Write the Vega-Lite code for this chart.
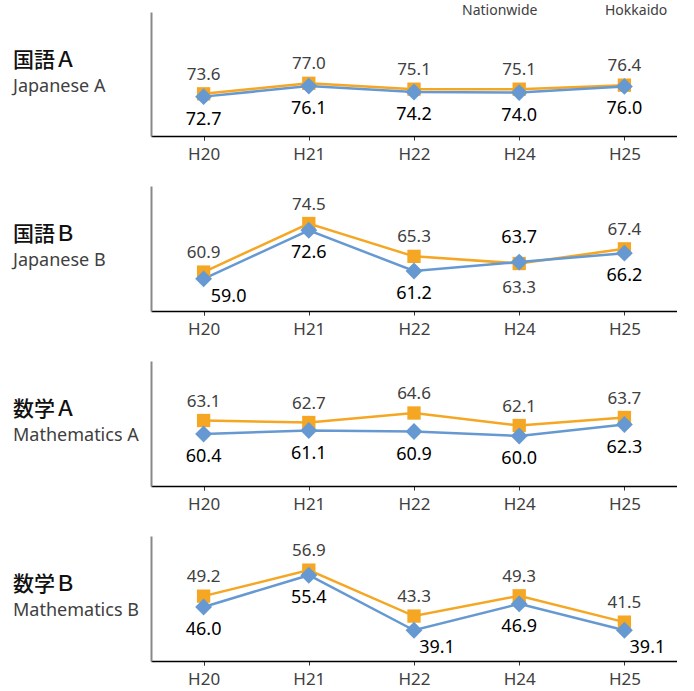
{
  "$schema": "https://vega.github.io/schema/vega-lite/v6.json",
  "padding": {"left": 13, "top": 2, "right": 0, "bottom": 4},
  "background": "white",
  "config": {
    "view": {"stroke": null},
    "font": "Noto Sans",
    "axisX": {"title": null, "labelAngle": 0, "labelFontSize": 17, "labelColor": "#404040", "labelFont": "Noto Sans", "labelPadding": 6, "domainColor": "#000000", "domainWidth": 1.3, "tickColor": "#333333", "tickSize": 4, "tickWidth": 1, "tickBand": "extent", "grid": false},
    "axisY": {"title": null, "labels": false, "ticks": false, "grid": false, "domainColor": "#888888", "domainWidth": 2},
    "title": {"orient": "top", "anchor": "start", "frame": "group", "offset": -84, "dx": -138, "font": "Noto Sans CJK JP", "fontSize": 21, "fontWeight": 500, "color": "#111111", "subtitleFont": "Noto Sans", "subtitleFontSize": 18, "subtitleColor": "#404040", "subtitlePadding": 7}
  },
  "datasets": {
    "scores": [
      {"subject": "Japanese A", "year": "H20", "series": "Nationwide", "value": 73.6},
      {"subject": "Japanese A", "year": "H21", "series": "Nationwide", "value": 77.0},
      {"subject": "Japanese A", "year": "H22", "series": "Nationwide", "value": 75.1},
      {"subject": "Japanese A", "year": "H24", "series": "Nationwide", "value": 75.1},
      {"subject": "Japanese A", "year": "H25", "series": "Nationwide", "value": 76.4},
      {"subject": "Japanese B", "year": "H20", "series": "Nationwide", "value": 60.9},
      {"subject": "Japanese B", "year": "H21", "series": "Nationwide", "value": 74.5},
      {"subject": "Japanese B", "year": "H22", "series": "Nationwide", "value": 65.3},
      {"subject": "Japanese B", "year": "H24", "series": "Nationwide", "value": 63.3},
      {"subject": "Japanese B", "year": "H25", "series": "Nationwide", "value": 67.4},
      {"subject": "Mathematics A", "year": "H20", "series": "Nationwide", "value": 63.1},
      {"subject": "Mathematics A", "year": "H21", "series": "Nationwide", "value": 62.7},
      {"subject": "Mathematics A", "year": "H22", "series": "Nationwide", "value": 64.6},
      {"subject": "Mathematics A", "year": "H24", "series": "Nationwide", "value": 62.1},
      {"subject": "Mathematics A", "year": "H25", "series": "Nationwide", "value": 63.7},
      {"subject": "Mathematics B", "year": "H20", "series": "Nationwide", "value": 49.2},
      {"subject": "Mathematics B", "year": "H21", "series": "Nationwide", "value": 56.9},
      {"subject": "Mathematics B", "year": "H22", "series": "Nationwide", "value": 43.3},
      {"subject": "Mathematics B", "year": "H24", "series": "Nationwide", "value": 49.3},
      {"subject": "Mathematics B", "year": "H25", "series": "Nationwide", "value": 41.5},
      {"subject": "Japanese A", "year": "H20", "series": "Hokkaido", "value": 72.7},
      {"subject": "Japanese A", "year": "H21", "series": "Hokkaido", "value": 76.1},
      {"subject": "Japanese A", "year": "H22", "series": "Hokkaido", "value": 74.2},
      {"subject": "Japanese A", "year": "H24", "series": "Hokkaido", "value": 74.0},
      {"subject": "Japanese A", "year": "H25", "series": "Hokkaido", "value": 76.0},
      {"subject": "Japanese B", "year": "H20", "series": "Hokkaido", "value": 59.0},
      {"subject": "Japanese B", "year": "H21", "series": "Hokkaido", "value": 72.6},
      {"subject": "Japanese B", "year": "H22", "series": "Hokkaido", "value": 61.2},
      {"subject": "Japanese B", "year": "H24", "series": "Hokkaido", "value": 63.7},
      {"subject": "Japanese B", "year": "H25", "series": "Hokkaido", "value": 66.2},
      {"subject": "Mathematics A", "year": "H20", "series": "Hokkaido", "value": 60.4},
      {"subject": "Mathematics A", "year": "H21", "series": "Hokkaido", "value": 61.1},
      {"subject": "Mathematics A", "year": "H22", "series": "Hokkaido", "value": 60.9},
      {"subject": "Mathematics A", "year": "H24", "series": "Hokkaido", "value": 60.0},
      {"subject": "Mathematics A", "year": "H25", "series": "Hokkaido", "value": 62.3},
      {"subject": "Mathematics B", "year": "H20", "series": "Hokkaido", "value": 46.0},
      {"subject": "Mathematics B", "year": "H21", "series": "Hokkaido", "value": 55.4},
      {"subject": "Mathematics B", "year": "H22", "series": "Hokkaido", "value": 39.1},
      {"subject": "Mathematics B", "year": "H24", "series": "Hokkaido", "value": 46.9},
      {"subject": "Mathematics B", "year": "H25", "series": "Hokkaido", "value": 39.1}
    ]
  },
  "spacing": 24,
  "vconcat": [
    {
      "width": 526, "height": 124,
      "title": {"text": "国語Ａ", "subtitle": "Japanese A"},
      "data": {"name": "scores"},
      "transform": [{"filter": "datum.subject == 'Japanese A'"}],
      "encoding": {
        "x": {"field": "year", "type": "ordinal", "scale": {"domain": ["H20", "H21", "H22", "H24", "H25"], "paddingInner": 0, "paddingOuter": 0}},
        "y": {"field": "value", "type": "quantitative", "scale": {"domain": [60, 100], "zero": false, "nice": false}}
      },
      "layer": [
        {"mark": {"type": "line", "strokeWidth": 2.5}, "encoding": {"color": {"field": "series", "type": "nominal", "scale": {"domain": ["Nationwide", "Hokkaido"], "range": ["#F5A623", "#6699D2"]}, "legend": {"orient": "none", "legendX": 297, "legendY": -10, "direction": "horizontal", "title": null, "symbolOpacity": 0, "symbolSize": 1, "symbolStrokeWidth": 0, "labelOffset": 0, "labelFontSize": 14, "labelColor": "#404040", "labelFont": "Noto Sans", "columnPadding": 50, "padding": 0}}}},
        {"mark": {"type": "point", "filled": true, "opacity": 1, "strokeWidth": 0}, "encoding": {"color": {"field": "series", "type": "nominal", "legend": null}, "shape": {"field": "series", "type": "nominal", "scale": {"domain": ["Nationwide", "Hokkaido"], "range": ["square", "diamond"]}, "legend": null}, "size": {"field": "series", "type": "nominal", "scale": {"domain": ["Nationwide", "Hokkaido"], "range": [177, 285]}, "legend": null}}},
        {"transform": [{"filter": "datum.series == 'Nationwide'"}], "mark": {"type": "text", "dy": -19, "fontSize": 17, "color": "#404040", "baseline": "middle"}, "encoding": {"text": {"field": "value", "type": "quantitative", "format": ".1f"}}},
        {"transform": [{"filter": "datum.series == 'Hokkaido'"}], "mark": {"type": "text", "dy": 23, "fontSize": 18, "color": "#000000", "baseline": "middle"}, "encoding": {"text": {"field": "value", "type": "quantitative", "format": ".1f"}}}
      ]
    },
    {
      "width": 526, "height": 125,
      "title": {"text": "国語Ｂ", "subtitle": "Japanese B"},
      "data": {"name": "scores"},
      "transform": [{"filter": "datum.subject == 'Japanese B'"}],
      "encoding": {
        "x": {"field": "year", "type": "ordinal", "scale": {"domain": ["H20", "H21", "H22", "H24", "H25"], "paddingInner": 0, "paddingOuter": 0}},
        "y": {"field": "value", "type": "quantitative", "scale": {"domain": [50, 85], "zero": false, "nice": false}}
      },
      "layer": [
        {"mark": {"type": "line", "strokeWidth": 2.5}, "encoding": {"color": {"field": "series", "type": "nominal"}}},
        {"mark": {"type": "point", "filled": true, "opacity": 1, "strokeWidth": 0}, "encoding": {"color": {"field": "series", "type": "nominal", "legend": null}, "shape": {"field": "series", "type": "nominal", "legend": null}, "size": {"field": "series", "type": "nominal", "legend": null}}},
        {"transform": [{"filter": "datum.series == 'Nationwide' && datum.year != 'H24'"}], "mark": {"type": "text", "dy": -19, "fontSize": 17, "color": "#404040", "baseline": "middle"}, "encoding": {"text": {"field": "value", "type": "quantitative", "format": ".1f"}}},
        {"transform": [{"filter": "datum.series == 'Nationwide' && datum.year == 'H24'"}], "mark": {"type": "text", "dy": 24, "fontSize": 17, "color": "#404040", "baseline": "middle"}, "encoding": {"text": {"field": "value", "type": "quantitative", "format": ".1f"}}},
        {"transform": [{"filter": "datum.series == 'Hokkaido' && datum.year != 'H24' && datum.year != 'H20'"}], "mark": {"type": "text", "dy": 23, "fontSize": 18, "color": "#000000", "baseline": "middle"}, "encoding": {"text": {"field": "value", "type": "quantitative", "format": ".1f"}}},
        {"transform": [{"filter": "datum.series == 'Hokkaido' && datum.year == 'H20'"}], "mark": {"type": "text", "dx": 25, "dy": 18, "fontSize": 18, "color": "#000000", "baseline": "middle"}, "encoding": {"text": {"field": "value", "type": "quantitative", "format": ".1f"}}},
        {"transform": [{"filter": "datum.series == 'Hokkaido' && datum.year == 'H24'"}], "mark": {"type": "text", "dy": -24, "fontSize": 18, "color": "#000000", "baseline": "middle"}, "encoding": {"text": {"field": "value", "type": "quantitative", "format": ".1f"}}}
      ]
    },
    {
      "width": 526, "height": 125,
      "title": {"text": "数学Ａ", "subtitle": "Mathematics A"},
      "data": {"name": "scores"},
      "transform": [{"filter": "datum.subject == 'Mathematics A'"}],
      "encoding": {
        "x": {"field": "year", "type": "ordinal", "scale": {"domain": ["H20", "H21", "H22", "H24", "H25"], "paddingInner": 0, "paddingOuter": 0}},
        "y": {"field": "value", "type": "quantitative", "scale": {"domain": [50, 75], "zero": false, "nice": false}}
      },
      "layer": [
        {"mark": {"type": "line", "strokeWidth": 2.5}, "encoding": {"color": {"field": "series", "type": "nominal"}}},
        {"mark": {"type": "point", "filled": true, "opacity": 1, "strokeWidth": 0}, "encoding": {"color": {"field": "series", "type": "nominal", "legend": null}, "shape": {"field": "series", "type": "nominal", "legend": null}, "size": {"field": "series", "type": "nominal", "legend": null}}},
        {"transform": [{"filter": "datum.series == 'Nationwide'"}], "mark": {"type": "text", "dy": -19, "fontSize": 17, "color": "#404040", "baseline": "middle"}, "encoding": {"text": {"field": "value", "type": "quantitative", "format": ".1f"}}},
        {"transform": [{"filter": "datum.series == 'Hokkaido'"}], "mark": {"type": "text", "dy": 23, "fontSize": 18, "color": "#000000", "baseline": "middle"}, "encoding": {"text": {"field": "value", "type": "quantitative", "format": ".1f"}}}
      ]
    },
    {
      "width": 526, "height": 125,
      "title": {"text": "数学Ｂ", "subtitle": "Mathematics B"},
      "data": {"name": "scores"},
      "transform": [{"filter": "datum.subject == 'Mathematics B'"}],
      "encoding": {
        "x": {"field": "year", "type": "ordinal", "scale": {"domain": ["H20", "H21", "H22", "H24", "H25"], "paddingInner": 0, "paddingOuter": 0}},
        "y": {"field": "value", "type": "quantitative", "scale": {"domain": [30, 67], "zero": false, "nice": false}}
      },
      "layer": [
        {"mark": {"type": "line", "strokeWidth": 2.5}, "encoding": {"color": {"field": "series", "type": "nominal"}}},
        {"mark": {"type": "point", "filled": true, "opacity": 1, "strokeWidth": 0}, "encoding": {"color": {"field": "series", "type": "nominal", "legend": null}, "shape": {"field": "series", "type": "nominal", "legend": null}, "size": {"field": "series", "type": "nominal", "legend": null}}},
        {"transform": [{"filter": "datum.series == 'Nationwide'"}], "mark": {"type": "text", "dy": -19, "fontSize": 17, "color": "#404040", "baseline": "middle"}, "encoding": {"text": {"field": "value", "type": "quantitative", "format": ".1f"}}},
        {"transform": [{"filter": "datum.series == 'Hokkaido' && datum.year != 'H22' && datum.year != 'H25'"}], "mark": {"type": "text", "dy": 23, "fontSize": 18, "color": "#000000", "baseline": "middle"}, "encoding": {"text": {"field": "value", "type": "quantitative", "format": ".1f"}}},
        {"transform": [{"filter": "datum.series == 'Hokkaido' && (datum.year == 'H22' || datum.year == 'H25')"}], "mark": {"type": "text", "dx": 23, "dy": 18, "fontSize": 18, "color": "#000000", "baseline": "middle"}, "encoding": {"text": {"field": "value", "type": "quantitative", "format": ".1f"}}}
      ]
    }
  ]
}
